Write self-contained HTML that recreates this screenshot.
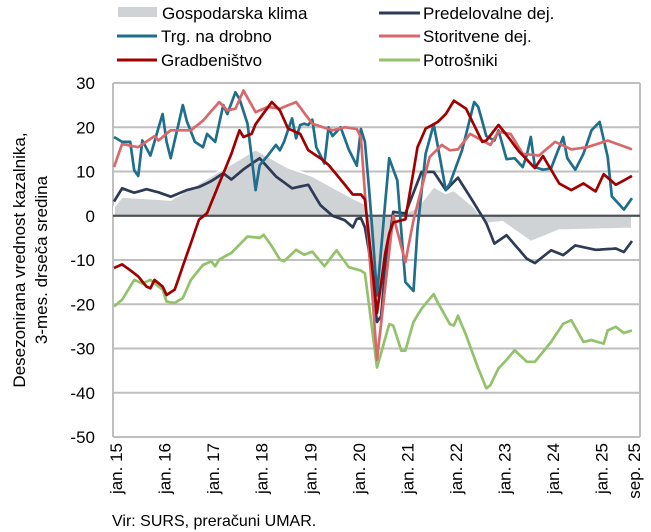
<!DOCTYPE html>
<html><head><meta charset="utf-8">
<style>
html,body{margin:0;padding:0;background:#fff;}
svg{display:block;font-family:"Liberation Sans",sans-serif;}
</style></head>
<body>
<svg id="chart" width="651" height="532" viewBox="0 0 651 532">
  <g id="grid"></g>
  <g id="area"></g>
  <g id="lines"></g>
  <g id="yticks"></g>
  <g id="xticks"></g>
  <text transform="translate(25,260) rotate(-90)" text-anchor="middle" font-size="17" fill="#000">Desezonirana vrednost kazalnika,</text>
  <text transform="translate(47,260) rotate(-90)" text-anchor="middle" font-size="17" fill="#000">3-mes. drseča sredina</text>
  <text x="112" y="526" font-size="16" fill="#000">Vir: SURS, preračuni UMAR.</text>
  <g id="legend">
    <rect x="118" y="7" width="39" height="10" fill="#d0d3d6"/>
    <text x="162" y="19" font-size="17">Gospodarska klima</text>
    <line x1="117" y1="36" x2="157" y2="36" stroke="#1f6e8c" stroke-width="3"/>
    <text x="161" y="42" font-size="17">Trg. na drobno</text>
    <line x1="117" y1="60" x2="157" y2="60" stroke="#a00000" stroke-width="3"/>
    <text x="161" y="66" font-size="17">Gradbeništvo</text>
    <line x1="379" y1="13" x2="420" y2="13" stroke="#2e3a56" stroke-width="3"/>
    <text x="423" y="19" font-size="17">Predelovalne dej.</text>
    <line x1="379" y1="36" x2="420" y2="36" stroke="#d9686a" stroke-width="3"/>
    <text x="423" y="42" font-size="17">Storitvene dej.</text>
    <line x1="379" y1="60" x2="420" y2="60" stroke="#92c26a" stroke-width="3"/>
    <text x="423" y="66" font-size="17">Potrošniki</text>
  </g>
</svg>
<script>
const yTicks=[30,20,10,0,-10,-20,-30,-40,-50];
const xLabelMonths=[0,12,24,36,48,60,72,84,96,108,120,128];
const xLabels=["jan. 15","jan. 16","jan. 17","jan. 18","jan. 19","jan. 20","jan. 21","jan. 22","jan. 23","jan. 24","jan. 25","sep. 25"];
const nMonths=129;
const climateM=[0,2,14,27,35,43,49,59,62,63,65,67,70,75,79,82,84,89,92,96,103,110,119,128];
const climateV=[2,4.3,3.6,10.6,15,10.9,9,4,2.7,-5,-25,-12,-0.2,2,6.6,5.1,5.8,2,-1.8,-1.4,-5.9,-3.3,-3.1,-2.9];
const manufM=[0,2,5,8,11,14,18,21,24,27,29,32,36,40,44,48,51,54,57,59,60,61,62,63,65.5,67,69,72,76,79,82,85,89,92,94,97,102,104,108,111,114,119,124,126,128];
const manufV=[3.2,6.2,5.2,6,5.3,4.3,5.8,6.5,7.8,9.6,8.2,10.5,13,8.9,6.2,7,2.4,0,-1,-2.6,-0.7,-0.5,-2.6,-8,-28,-12,0.9,0.5,9.9,9.9,5.8,8.6,2.8,-1.7,-6.3,-4.4,-9.7,-10.7,-7.8,-8.9,-6.7,-7.7,-7.4,-8.2,-5.7];
const retailM=[0,2,4,5,6,7,9,12,13,14,17,18,20,22,23,25,27,28,30,31,33,35,36,38,40,41,42,44,45,46,47,48,49,50,52,53,54,56,58,60,61,62,63.5,65,68,70,72,74,75,77,79,82,83,86,89,90,92,94,95,97,99,101,102,103,104,106,108,111,112,114,116,118,120,122,123,126,128];
const retailV=[17.8,16.7,16.7,10.3,9,17,13.6,23,16.7,13,25,21.4,16.7,15.5,18.5,16.7,25,23,27.9,26.4,20.8,5.8,11.4,13.6,16,14.8,16.7,22,17.5,20.5,20.8,20.5,21.7,15.5,11.8,20,18,20,15,11.3,19.6,16.7,1,-18,13,8,-15,-17,-3,14,20.7,5.8,7.3,14.8,25.7,24.6,18,17,19.3,12.8,13,11,13.7,17.8,11,10.4,10.7,17.8,13,10.4,14,19.3,21.2,13.3,4.4,1.4,4];
const servM=[0,2,6,10,11,14,19,22,26,28,30,32,35,38,41,45,49,54,57,60,61,65,69,72,74,78,81,83,85,88,93,95,98,101,105,109,113,117,122,128];
const servV=[11,16.2,15.5,18,17,19.3,19.3,21.5,25.7,23.8,24.2,28.3,23.4,24.6,24.2,25.7,20.8,19.3,20,19.6,17.7,-32.5,0,-10.5,-1,13.3,16,14.8,15,18.5,16,19,18.5,14,13.6,16.7,15,15.5,17,15];
const constrM=[0,2,4,6,8,9,10,12,13,15,17,19,21,23,26,29,31,32,34,35,39,41,43,46,48,51,53,56,59,61,62,65,67.5,69,72,75,77,80,82,84,87,91,92,95,97,100,104,106,110,113,116,119,121,124,128];
const constrV=[-11.8,-11,-12.3,-13.7,-16,-16.4,-14.5,-16,-17.9,-16.7,-11.4,-6.2,-0.9,0.6,7.3,14,19.3,17.8,18.5,20.7,25.7,23.8,19.7,18.5,14.8,13,11.5,8.2,4.8,4.8,3.7,-22,-5.3,-1.5,-0.8,15.5,19.7,21.2,23,26,24.2,16.7,17,20.5,18.3,14.6,10.8,13.5,7.3,5.8,7.3,5.5,9.4,7,9];
const consM=[0,2,5,7,9,12,13,15,17,19,22,24,25,26,29,33,36,37,39,41,42,45,47,49,52,55,58,61,62,65,68,69,71,72,74,76,79,80,83,84,85,87,90,92,93,95,97,99,102,104,105,108,111,113,116,118,121,122,124,126,128];
const consV=[-20.5,-19,-14.5,-15.3,-14.5,-16.7,-19.4,-19.7,-18.6,-14.5,-11.1,-10.3,-11.4,-9.9,-8.4,-4.7,-5,-4.3,-6.9,-9.9,-10.3,-7.7,-8.8,-8.1,-11.4,-7.8,-11.6,-12.4,-13,-34.3,-24.5,-24.8,-30.5,-30.5,-24,-21,-17.7,-19.6,-24.5,-24.8,-22.6,-27,-34.5,-39,-38.3,-34.5,-32.6,-30.4,-33,-33,-31.9,-28.5,-24.4,-23.6,-28.5,-28.1,-28.9,-25.9,-25.1,-26.5,-25.9];

const L=113,R=640,T=83,B=437,Y0=30,Y1=-50;
const X0=114,XS=(632-114)/128;
function xs(m){return X0+m*XS;}
function ys(v){return T+(Y0-v)/(Y0-Y1)*(B-T);}
function monthly(ms,vs){const out=[];for(let m=0;m<nMonths;m++){let i=0;while(i<ms.length-2&&ms[i+1]<m)i++;const t=(m-ms[i])/(ms[i+1]-ms[i]);out.push(vs[i]+(vs[i+1]-vs[i])*Math.max(0,Math.min(1,t)));}return out;}
const NS="http://www.w3.org/2000/svg";
function mk(tag,attrs,parent){const e=document.createElementNS(NS,tag);for(const k in attrs)e.setAttribute(k,attrs[k]);parent.appendChild(e);return e;}

const grid=document.getElementById('grid');
yTicks.forEach(v=>{
  if(v===0)return;
  const g=mk('line',{x1:L,x2:R,y1:ys(v),y2:ys(v),stroke:'#bfbfbf','stroke-width':2},grid);
  
  
});
const bl=mk('line',{x1:L,y1:T,x2:L,y2:B,stroke:'#bfbfbf','stroke-width':2},grid);


const br=mk('line',{x1:R,y1:T,x2:R,y2:B,stroke:'#bfbfbf','stroke-width':2},grid);



const cv=monthly(climateM,climateV);
let d='M'+xs(0)+','+ys(0);
cv.forEach((v,m)=>{d+=' L'+xs(m).toFixed(1)+','+ys(v).toFixed(1);});
d+=' L'+xs(nMonths-1)+','+ys(0)+' Z';
const ar=mk('path',{d:d,fill:'#d0d3d6',stroke:'#fff','stroke-width':2},document.getElementById('area'));



const lines=document.getElementById('lines');
const zl=mk('line',{x1:L,x2:R,y1:ys(0),y2:ys(0),stroke:'#4d5257','stroke-width':2.2},lines);


const series=[['consumers-line',consM,consV,'#92c26a'],['manufacturing-line',manufM,manufV,'#2e3a56'],['retail-line',retailM,retailV,'#1f6e8c'],['services-line',servM,servV,'#d9686a'],['construction-line',constrM,constrV,'#a00000']];
series.forEach(s=>{
  const v=monthly(s[1],s[2]);
  const pts=v.map((y,m)=>xs(m).toFixed(1)+','+ys(y).toFixed(1)).join(' ');
  const p=mk('polyline',{points:pts,fill:'none',stroke:s[3],'stroke-width':2.7,'stroke-linejoin':'round'},lines);
  
  
});

const yt=document.getElementById('yticks');
yTicks.forEach(v=>{
  const t=mk('text',{x:95,y:ys(v)+6,'text-anchor':'end','font-size':17,fill:'#000'},yt);
  t.textContent=v;
  
  
});
const xt=document.getElementById('xticks');
xLabelMonths.forEach((m,i)=>{
  const t=mk('text',{transform:'translate('+(xs(m)+8)+',443) rotate(-90)','text-anchor':'end','font-size':17,fill:'#000'},xt);
  t.textContent=xLabels[i];
  
  
});
</script>
</body></html>
